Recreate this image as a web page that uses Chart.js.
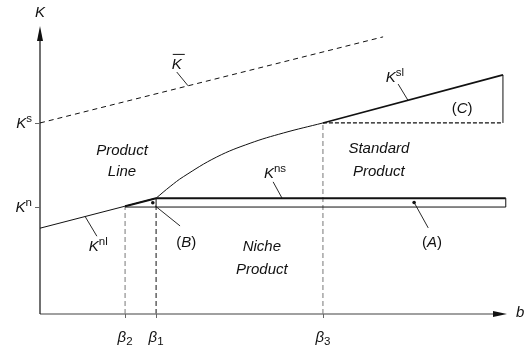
<!DOCTYPE html>
<html>
<head>
<meta charset="utf-8">
<script src="https://cdn.jsdelivr.net/npm/chart.js@4"></script>
<style>
  html, body { margin: 0; padding: 0; background: #fff; }
  canvas { display: block; }
</style>
</head>
<body>
<canvas id="regions" width="524" height="351"></canvas>
<script>
// thresholds on the b axis
var betaSubs = ['2', '1', '3'];
var betaValues = [1.81, 2.47, 6.02];

// capital levels marked on the K axis
var kLevelSups = ['s', 'n'];
var kLevelValues = [6.68, 3.74];

// K-bar (dashed upper bound)
var kBarB = [0, 7.3];
var kBarK = [6.68, 9.69];

// K^nl: product line below beta1
var kNlB = [0, 1.81, 2.47];
var kNlK = [3.0, 3.77, 4.05];

// boundary of product line region between beta1 and beta3
var kCurveB = [2.47, 2.77, 3.05, 3.76, 4.47, 5.18, 6.02];
var kCurveK = [4.05, 4.46, 4.80, 5.49, 5.97, 6.33, 6.68];

// K^sl: standard line above beta3
var kSlB = [6.02, 9.85];
var kSlK = [6.68, 8.36];

// K^ns band (niche / standard)
var bandB = [2.47, 9.91];
var bandLow = 3.74;
var bandHigh = 4.05;

// marker dots for regions (A) and (B)
var dotB = [2.4, 7.96];
var dotK = [3.89, 3.90];

function pts(xs, ys) {
  return xs.map(function (x, i) { return { x: x, y: ys[i] }; });
}

function line(data, extra) {
  var ds = {
    data: data,
    showLine: true,
    borderColor: '#111',
    borderWidth: 1,
    pointRadius: 0,
    fill: false
  };
  for (var k in extra) ds[k] = extra[k];
  return ds;
}

var b2 = betaValues[0], b1 = betaValues[1], b3 = betaValues[2];
var kS = kLevelValues[0], kN = kLevelValues[1];
var bandEnd = bandB[1];
var slEnd = kSlB[1], slTop = kSlK[1];

var datasets = [
  line(pts(kBarB, kBarK), { borderDash: [5, 4] }),
  line(pts(kNlB, kNlK)),
  line(pts(kNlB.slice(1), kNlK.slice(1)), { borderWidth: 2 }),
  line(pts(kCurveB, kCurveK), { tension: 0.4 }),
  line(pts(kSlB, kSlK), { borderWidth: 1.7 }),
  // triangle (C)
  line(pts([b3, slEnd], [kS, kS]), { borderDash: [4, 2], borderWidth: 1.2 }),
  line(pts([slEnd, slEnd], [kS, slTop])),
  // band (A)
  line(pts([b2, bandEnd, bandEnd], [bandLow, bandLow, bandHigh])),
  line(pts([b1, bandEnd], [bandHigh, bandHigh]), { borderWidth: 2 }),
  line(pts([b1, b1], [bandLow, bandHigh])),
  // threshold verticals
  line(pts([b2, b2], [0, kN]), { borderDash: [5, 3], borderColor: '#777' }),
  line(pts([b1, b1], [0, kN]), { borderDash: [5, 3] }),
  line(pts([b3, b3], [0, kS]), { borderDash: [5, 3], borderColor: '#777' }),
  // dots
  { data: pts(dotB, dotK), pointRadius: 1.8, pointBackgroundColor: '#111', pointBorderWidth: 0, showLine: false },
  // label leaders
  line(pts([2.91, 3.15], [8.46, 7.98]), { borderWidth: 0.9 }),
  line(pts([0.96, 1.21], [3.41, 2.72]), { borderWidth: 0.9 }),
  line(pts([2.45, 2.98], [3.78, 3.08]), { borderWidth: 0.9 }),
  line(pts([7.96, 8.26], [3.90, 3.01]), { borderWidth: 0.9 }),
  line(pts([4.96, 5.15], [4.62, bandHigh]), { borderWidth: 0.9 }),
  line(pts([7.62, 7.83], [8.04, 7.47]), { borderWidth: 0.9 })
];

var FONT = '"Liberation Sans", Arial, sans-serif';

function fontOf(r) {
  return (r.i ? 'italic ' : '') + (r.size || 15) + 'px ' + FONT;
}

// draw a run of mixed italic / upright / raised text
function drawRuns(ctx, x, y, runs, align) {
  var w = 0;
  runs.forEach(function (r) {
    ctx.font = fontOf(r);
    r.w = ctx.measureText(r.t).width;
    w += r.w;
  });
  var cx = align === 'right' ? x - w : (align === 'left' ? x : x - w / 2);
  var start = cx;
  ctx.textAlign = 'left';
  ctx.textBaseline = 'middle';
  runs.forEach(function (r) {
    ctx.font = fontOf(r);
    ctx.fillText(r.t, cx, y + (r.dy || 0));
    cx += r.w;
  });
  return { left: start, width: w };
}

function kSup(sup) {
  return [{ t: 'K', i: true }, { t: sup, size: 11.5, dy: -5 }];
}

function paren(letter) {
  return [{ t: '(' }, { t: letter, i: true }, { t: ')' }];
}

var textLabels = [
  { b: 1.745, k: 5.70, runs: [{ t: 'Product', i: true }] },
  { b: 1.745, k: 4.97, runs: [{ t: 'Line', i: true }] },
  { b: 4.72, k: 2.34, runs: [{ t: 'Niche', i: true }] },
  { b: 4.72, k: 1.54, runs: [{ t: 'Product', i: true }] },
  { b: 7.21, k: 5.77, runs: [{ t: 'Standard', i: true }] },
  { b: 7.21, k: 4.97, runs: [{ t: 'Product', i: true }] },
  { b: 8.34, k: 2.48, runs: paren('A') },
  { b: 3.11, k: 2.48, runs: paren('B') },
  { b: 8.98, k: 7.17, runs: paren('C') },
  { b: 1.24, k: 2.34, runs: kSup('nl') },
  { b: 5.00, k: 4.90, runs: kSup('ns') },
  { b: 7.55, k: 8.25, runs: kSup('sl') }
];

var diagramPlugin = {
  id: 'diagram',
  afterDatasetsDraw: function (chart) {
    var ctx = chart.ctx;
    var xs = chart.scales.x, ys = chart.scales.y;
    var a = chart.chartArea;
    ctx.save();

    // b axis
    ctx.strokeStyle = '#808080';
    ctx.lineWidth = 1.6;
    ctx.beginPath();
    ctx.moveTo(a.left, a.bottom);
    ctx.lineTo(a.right - 12, a.bottom);
    ctx.stroke();
    ctx.fillStyle = '#111';
    ctx.beginPath();
    ctx.moveTo(a.right - 3, a.bottom);
    ctx.lineTo(a.right - 17, a.bottom - 3);
    ctx.lineTo(a.right - 17, a.bottom + 3);
    ctx.closePath();
    ctx.fill();

    // K axis
    ctx.strokeStyle = '#111';
    ctx.lineWidth = 1.2;
    ctx.beginPath();
    ctx.moveTo(a.left, a.bottom);
    ctx.lineTo(a.left, a.top + 8);
    ctx.stroke();
    ctx.beginPath();
    ctx.moveTo(a.left, a.top - 2);
    ctx.lineTo(a.left - 3, a.top + 13);
    ctx.lineTo(a.left + 3, a.top + 13);
    ctx.closePath();
    ctx.fill();

    // ticks on both axes
    ctx.strokeStyle = '#666';
    ctx.lineWidth = 1;
    kLevelValues.forEach(function (v) {
      var py = Math.round(ys.getPixelForValue(v)) + 0.5;
      ctx.beginPath();
      ctx.moveTo(a.left - 5, py);
      ctx.lineTo(a.left, py);
      ctx.stroke();
    });
    betaValues.forEach(function (v) {
      var px = Math.round(xs.getPixelForValue(v)) + 0.5;
      ctx.beginPath();
      ctx.moveTo(px, a.bottom);
      ctx.lineTo(px, a.bottom + 4);
      ctx.stroke();
    });

    ctx.fillStyle = '#111';
    // axis titles
    drawRuns(ctx, a.left, a.top - 15, [{ t: 'K', i: true }], 'center');
    drawRuns(ctx, a.right + 6, a.bottom - 1, [{ t: 'b', i: true }], 'left');

    kLevelValues.forEach(function (v, i) {
      drawRuns(ctx, a.left - 8, ys.getPixelForValue(v) + 1, kSup(kLevelSups[i]), 'right');
    });
    betaValues.forEach(function (v, i) {
      drawRuns(ctx, xs.getPixelForValue(v), a.bottom + 24,
        [{ t: '\u03b2', i: true }, { t: betaSubs[i], size: 11.5, dy: 4 }], 'center');
    });

    textLabels.forEach(function (l) {
      drawRuns(ctx, xs.getPixelForValue(l.b), ys.getPixelForValue(l.k), l.runs, 'center');
    });

    // K-bar label with overline
    var kb = drawRuns(ctx, xs.getPixelForValue(2.91), ys.getPixelForValue(8.71), [{ t: 'K', i: true }], 'center');
    var barY = ys.getPixelForValue(8.71) - 10.5;
    ctx.strokeStyle = '#111';
    ctx.lineWidth = 1;
    ctx.beginPath();
    ctx.moveTo(kb.left + 1, barY);
    ctx.lineTo(kb.left + kb.width + 3, barY);
    ctx.stroke();

    ctx.restore();
  }
};

new Chart(document.getElementById('regions'), {
  type: 'scatter',
  data: { datasets: datasets },
  options: {
    responsive: false,
    animation: false,
    layout: { padding: { left: 40, right: 14, top: 28, bottom: 37 } },
    plugins: { legend: { display: false }, tooltip: { enabled: false } },
    scales: {
      x: { type: 'linear', min: 0, max: 10, display: false },
      y: { type: 'linear', min: 0, max: 10, display: false }
    }
  },
  plugins: [diagramPlugin]
});
</script>
</body>
</html>
